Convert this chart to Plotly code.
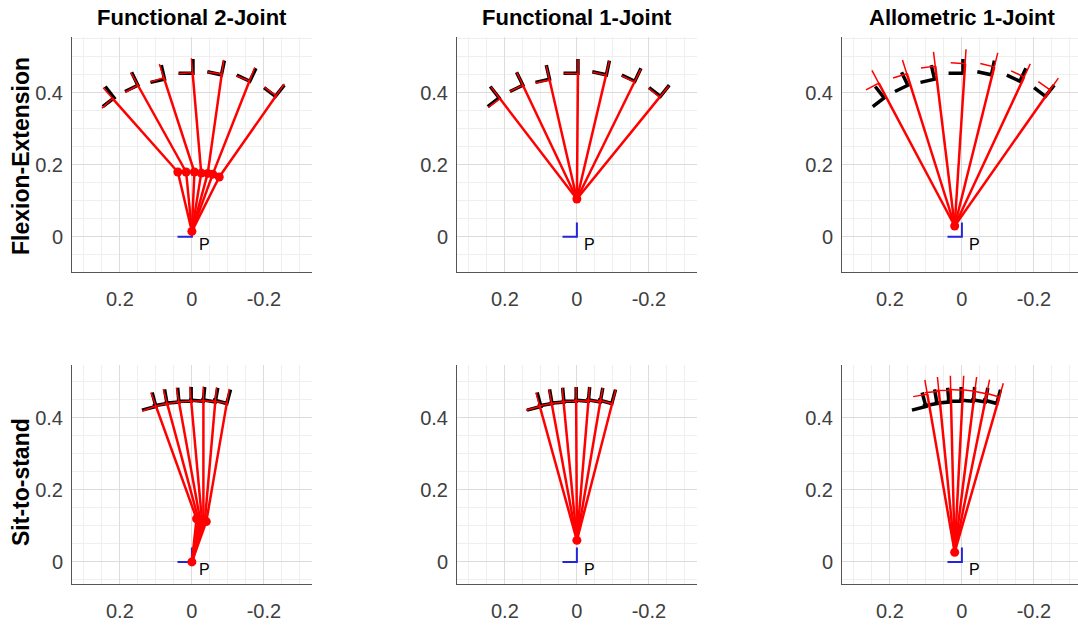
import numpy as np
import plotly.graph_objects as go

# ---------------------------------------------------------------------------
# Data
# ---------------------------------------------------------------------------
col_titles = ["Functional 2-Joint", "Functional 1-Joint", "Allometric 1-Joint"]
row_titles = ["Flexion-Extension", "Sit-to-stand"]

x_tick_vals = [0.2, 0.0, -0.2]
x_tick_text = ["0.2", "0", "-0.2"]
y_tick_vals = [0.0, 0.2, 0.4]
y_tick_text = ["0", "0.2", "0.4"]

# measured end-segment frames (black): position + tilt from vertical (deg, + toward +x)
fe_meas_x = [0.216, 0.150, 0.076, -0.003, -0.082, -0.161, -0.232]
fe_meas_y = [0.386, 0.421, 0.438, 0.454, 0.450, 0.432, 0.390]
fe_meas_ang = [38, 26, 13, 0, -12, -25, -38]

sts_meas_x = [0.100, 0.069, 0.036, 0.002, -0.032, -0.065, -0.097]
sts_meas_y = [0.432, 0.440, 0.444, 0.446, 0.446, 0.444, 0.440]
sts_meas_ang = [15, 10, 5, 0, -5, -10, -15]

# Flexion-extension, functional 2-joint model
fe_f2_base = [0.0, 0.015]
fe_f2_joint_x = [0.039, 0.016, -0.007, -0.026, -0.044, -0.058, -0.076]
fe_f2_joint_y = [0.180, 0.180, 0.180, 0.177, 0.176, 0.174, 0.166]
fe_f2_end_x = [0.220, 0.150, 0.078, -0.002, -0.083, -0.160, -0.234]
fe_f2_end_y = [0.384, 0.421, 0.442, 0.456, 0.452, 0.433, 0.392]

# Flexion-extension, functional 1-joint model
fe_f1_pivot = [0.0, 0.105]
fe_f1_end_x = [0.214, 0.150, 0.076, -0.003, -0.081, -0.160, -0.230]
fe_f1_end_y = [0.384, 0.421, 0.436, 0.453, 0.449, 0.430, 0.388]

# Flexion-extension, allometric 1-joint model
fe_a1_pivot = [0.020, 0.030]
fe_a1_end_x = [0.231, 0.153, 0.074, -0.009, -0.090, -0.173, -0.245]
fe_a1_end_y = [0.427, 0.453, 0.474, 0.481, 0.472, 0.444, 0.408]

# Sit-to-stand, functional 2-joint model
sts_f2_base = [0.0, 0.0]
sts_f2_joint_x = [-0.013, -0.018, -0.023, -0.028, -0.032, -0.036, -0.040]
sts_f2_joint_y = [0.120, 0.119, 0.117, 0.116, 0.114, 0.113, 0.112]
sts_f2_end_x = [0.100, 0.069, 0.036, 0.002, -0.032, -0.065, -0.097]
sts_f2_end_y = [0.433, 0.441, 0.445, 0.447, 0.447, 0.445, 0.441]

# Sit-to-stand, functional 1-joint model
sts_f1_pivot = [0.0, 0.060]
sts_f1_end_x = [0.103, 0.070, 0.037, 0.002, -0.032, -0.065, -0.098]
sts_f1_end_y = [0.432, 0.440, 0.444, 0.446, 0.446, 0.444, 0.440]

# Sit-to-stand, allometric 1-joint model
sts_a1_pivot = [0.020, 0.027]
sts_a1_end_x = [0.096, 0.064, 0.031, -0.003, -0.036, -0.069, -0.104]
sts_a1_end_y = [0.466, 0.474, 0.477, 0.477, 0.474, 0.467, 0.458]

# ---------------------------------------------------------------------------
# Styling / layout constants
# ---------------------------------------------------------------------------
W, H = 1078, 631
FRAME_LEN = 0.04
RED = "#ff0000"
BLUE = "#2424d8"
FONT = "Liberation Sans, Arial, Helvetica, sans-serif"

col_px = [(72, 312), (457, 697), (842, 1078)]
row_px = [(37, 272), (365, 584)]
row_ytop = [0.555, 0.547]
x_left = 0.333
px_per_unit = 360.0


def frame_xy(x, y, ang_deg, length=FRAME_LEN):
    """Segments for a 2-axis frame: one axis along the limb, one across it."""
    xs, ys = [], []
    for xi, yi, a in zip(x, y, ang_deg):
        r = np.deg2rad(a)
        ux, uy = np.sin(r), np.cos(r)
        px_, py_ = uy, -ux
        xs += [xi + length * ux, xi, xi + length * px_, None]
        ys += [yi + length * uy, yi, yi + length * py_, None]
    return xs, ys


def rod_xy(sx, sy, ex, ey):
    xs, ys = [], []
    for a, b, c, d in zip(sx, sy, ex, ey):
        xs += [a, c, None]
        ys += [b, d, None]
    return xs, ys


def rod_angles(sx, sy, ex, ey):
    return [np.degrees(np.arctan2(c - a, d - b)) for a, b, c, d in zip(sx, sy, ex, ey)]


panels = [
    (0, 0, (fe_meas_x, fe_meas_y, fe_meas_ang), ("2j", fe_f2_base, fe_f2_joint_x, fe_f2_joint_y, fe_f2_end_x, fe_f2_end_y)),
    (0, 1, (fe_meas_x, fe_meas_y, fe_meas_ang), ("1j", fe_f1_pivot, fe_f1_end_x, fe_f1_end_y)),
    (0, 2, (fe_meas_x, fe_meas_y, fe_meas_ang), ("1j", fe_a1_pivot, fe_a1_end_x, fe_a1_end_y)),
    (1, 0, (sts_meas_x, sts_meas_y, sts_meas_ang), ("2j", sts_f2_base, sts_f2_joint_x, sts_f2_joint_y, sts_f2_end_x, sts_f2_end_y)),
    (1, 1, (sts_meas_x, sts_meas_y, sts_meas_ang), ("1j", sts_f1_pivot, sts_f1_end_x, sts_f1_end_y)),
    (1, 2, (sts_meas_x, sts_meas_y, sts_meas_ang), ("1j", sts_a1_pivot, sts_a1_end_x, sts_a1_end_y)),
]

fig = go.Figure()
layout = {}
annotations = []

for k, (r, c, meas, chain) in enumerate(panels):
    idx = k + 1
    xa = "x" if idx == 1 else f"x{idx}"
    ya = "y" if idx == 1 else f"y{idx}"
    xkey = "xaxis" if idx == 1 else f"xaxis{idx}"
    ykey = "yaxis" if idx == 1 else f"yaxis{idx}"

    x0p, x1p = col_px[c]
    y0p, y1p = row_px[r]
    xr = [x_left, x_left - (x1p - x0p) / px_per_unit]
    y_top = row_ytop[r]
    yr = [y_top - (y1p - y0p) / px_per_unit, y_top]

    common = dict(
        showline=True, linecolor="#555555", linewidth=1, mirror=False,
        showgrid=True, gridcolor="#dcdcdc", gridwidth=1,
        zeroline=False, ticks="",
        tickfont=dict(family=FONT, size=20, color="#404040"),
        fixedrange=True,
    )
    layout[xkey] = dict(common, domain=[x0p / W, x1p / W], range=xr, anchor=ya,
                        tickmode="array", tickvals=x_tick_vals, ticktext=x_tick_text,
                        ticklabelstandoff=9,
                        minor=dict(tick0=0, dtick=0.05, showgrid=True, gridcolor="#efefef"))
    layout[ykey] = dict(common, domain=[1 - y1p / H, 1 - y0p / H], range=yr, anchor=xa,
                        tickmode="array", tickvals=y_tick_vals, ticktext=y_tick_text,
                        ticklabelstandoff=4,
                        minor=dict(tick0=0, dtick=0.05, showgrid=True, gridcolor="#efefef"))

    def add(tr):
        tr.update(xaxis=xa, yaxis=ya, showlegend=False, hoverinfo="skip")
        fig.add_trace(tr)

    # reference frame at P
    add(go.Scatter(x=[FRAME_LEN, 0, 0], y=[0, 0, FRAME_LEN], mode="lines",
                   line=dict(color=BLUE, width=2)))

    # measured frames
    mx, my, mang = meas
    fx, fy = frame_xy(mx, my, mang)
    add(go.Scatter(x=fx, y=fy, mode="lines", line=dict(color="#000000", width=3.5)))

    # model chain
    if chain[0] == "2j":
        _, base, jx, jy, ex, ey = chain
        bx = [base[0]] * len(jx)
        by = [base[1]] * len(jx)
        sx, sy = rod_xy(bx, by, jx, jy)
        add(go.Scatter(x=sx, y=sy, mode="lines", line=dict(color=RED, width=2.5)))
        sx, sy = rod_xy(jx, jy, ex, ey)
        add(go.Scatter(x=sx, y=sy, mode="lines", line=dict(color=RED, width=2.5)))
        ang = rod_angles(jx, jy, ex, ey)
        dots_x = [base[0]] + list(jx)
        dots_y = [base[1]] + list(jy)
    else:
        _, pivot, ex, ey = chain
        px_ = [pivot[0]] * len(ex)
        py_ = [pivot[1]] * len(ex)
        sx, sy = rod_xy(px_, py_, ex, ey)
        add(go.Scatter(x=sx, y=sy, mode="lines", line=dict(color=RED, width=2.5)))
        ang = rod_angles(px_, py_, ex, ey)
        dots_x = [pivot[0]]
        dots_y = [pivot[1]]

    fx, fy = frame_xy(ex, ey, ang)
    add(go.Scatter(x=fx, y=fy, mode="lines", line=dict(color=RED, width=1.5)))
    add(go.Scatter(x=dots_x, y=dots_y, mode="markers",
                   marker=dict(color=RED, size=9, line=dict(width=0))))

    annotations.append(dict(x=-0.036, y=-0.022, xref=xa, yref=ya, text="P",
                            showarrow=False, font=dict(family=FONT, size=16, color="#000000")))

for c, t in enumerate(col_titles):
    x0p, x1p = col_px[c]
    annotations.append(dict(x=(x0p + 120) / W, y=1 - 18 / H, xref="paper", yref="paper",
                            text=f"<b>{t}</b>", showarrow=False, xanchor="center", yanchor="middle",
                            font=dict(family=FONT, size=22, color="#000000")))

for r, t in enumerate(row_titles):
    yc = [156, 482][r]
    annotations.append(dict(x=21 / W, y=1 - yc / H, xref="paper", yref="paper",
                            text=f"<b>{t}</b>", showarrow=False, textangle=-90,
                            xanchor="center", yanchor="middle",
                            font=dict(family=FONT, size=23, color="#000000")))

fig.update_layout(
    width=W, height=H,
    margin=dict(l=0, r=0, t=0, b=0),
    paper_bgcolor="white", plot_bgcolor="white",
    annotations=annotations,
    **layout,
)

fig.write_html("out.html", config={"displayModeBar": False})
